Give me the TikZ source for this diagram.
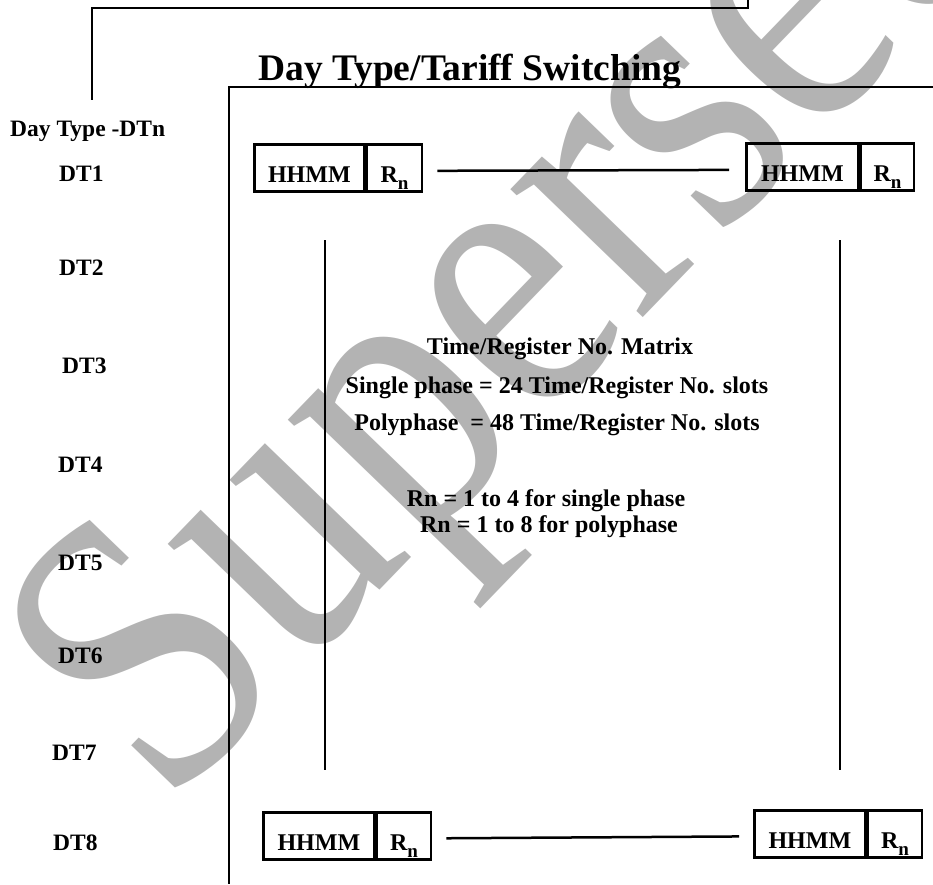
\documentclass[tikz,border=0pt]{standalone}
\usepackage{fontspec}
\setmainfont{Liberation Serif}
\definecolor{wmgray}{RGB}{179,179,179}
\tikzset{
  lbl/.style={font=\bfseries\fontsize{23.5}{26}\selectfont, anchor=base west, inner sep=0pt},
  ctr/.style={font=\bfseries\fontsize{24}{27}\selectfont, anchor=base, inner sep=0pt},
  titlefont/.style={font=\bfseries\fontsize{37.5}{40}\selectfont, anchor=base west, inner sep=0pt},
  cell/.style={draw, line width=2.7pt, minimum height=47pt, inner sep=0pt,
    text height=29pt, text depth=0pt, font=\bfseries\fontsize{24}{27}\selectfont},
  conn/.style={line width=2.5pt},
  frameline/.style={line width=2pt},
  wmark/.style={font=\fontsize{340}{340}\selectfont, text=wmgray, inner sep=0pt, anchor=base west}
}
\newcommand{\regn}{R\raisebox{-7pt}{\fontsize{19}{19}\selectfont n}}
\begin{document}
\begin{tikzpicture}[x=1pt,y=-1pt]
\useasboundingbox (0,0) rectangle (933,884);
% watermark
\begin{scope}
\clip (0,0) rectangle (933,884);
\node[wmark, rotate=46, yscale=1.18] (wm) at (166,812) {Superseded};
\end{scope}
% bracket at top
\coordinate (bt) at (748,0);
\coordinate (bc) at (748,8);
\coordinate (bl) at (92,8);
\coordinate (bb) at (92,100);
\draw[frameline] (bt) -- (bc) -- (bl) -- (bb);
% frame
\coordinate (ftr) at (933,87);
\coordinate (ftl) at (229,87);
\coordinate (fbl) at (229,884);
\draw[frameline] (ftr) -- (ftl) -- (fbl);
% title
\node[titlefont] (title) at (258,80) {Day Type/Tariff Switching};
% day type labels
\node[lbl] (dtn) at (10,136) {Day Type -DTn};
\node[lbl] (dt1) at (59,181) {DT1};
\node[lbl] (dt2) at (59,275) {DT2};
\node[lbl] (dt3) at (62,373) {DT3};
\node[lbl] (dt4) at (58,472) {DT4};
\node[lbl] (dt5) at (58,570) {DT5};
\node[lbl] (dt6) at (58,663) {DT6};
\node[lbl] (dt7) at (52,760) {DT7};
\node[lbl] (dt8) at (53,850) {DT8};
% boxes top
\node[cell, minimum width=110pt, anchor=north west] (h1) at (253,143) {HHMM};
\node[cell, minimum width=55pt, anchor=west] (r1) at (h1.east) {\regn};
\node[cell, minimum width=112pt, anchor=north west] (h2) at (745,142) {HHMM};
\node[cell, minimum width=53pt, anchor=west] (r2) at (h2.east) {\regn};
% boxes bottom
\node[cell, minimum width=111pt, anchor=north west] (h3) at (262,811) {HHMM};
\node[cell, minimum width=54pt, anchor=west] (r3) at (h3.east) {\regn};
\node[cell, minimum width=111pt, anchor=north west] (h4) at (753,809) {HHMM};
\node[cell, minimum width=54pt, anchor=west] (r4) at (h4.east) {\regn};
% connectors
\draw[conn, shorten <=14pt, shorten >=16pt] ([yshift=-3pt]r1.east) -- ([yshift=-3pt]h2.west);
\draw[conn, shorten <=14pt, shorten >=14pt] ([yshift=-2.5pt]r3.east) -- ([yshift=-2.5pt]h4.west);
% vertical lines
\coordinate (v1t) at (325,240);
\coordinate (v1b) at (325,770);
\coordinate (v2t) at (840,240);
\coordinate (v2b) at (840,770);
\draw[conn] (v1t) -- (v1b);
\draw[conn] (v2t) -- (v2b);
% centre text
\node[ctr] (m1) at (560,354) {Time/Register No. Matrix};
\node[ctr] (m2) at (557,393) {Single phase = 24 Time/Register No. slots};
\node[ctr] (m3) at (557,430) {Polyphase\ \ = 48 Time/Register No. slots};
\node[ctr] (m4) at (546,506) {Rn = 1 to 4 for single phase};
\node[ctr] (m5) at (549,532) {Rn = 1 to 8 for polyphase};
\end{tikzpicture}
\end{document}
